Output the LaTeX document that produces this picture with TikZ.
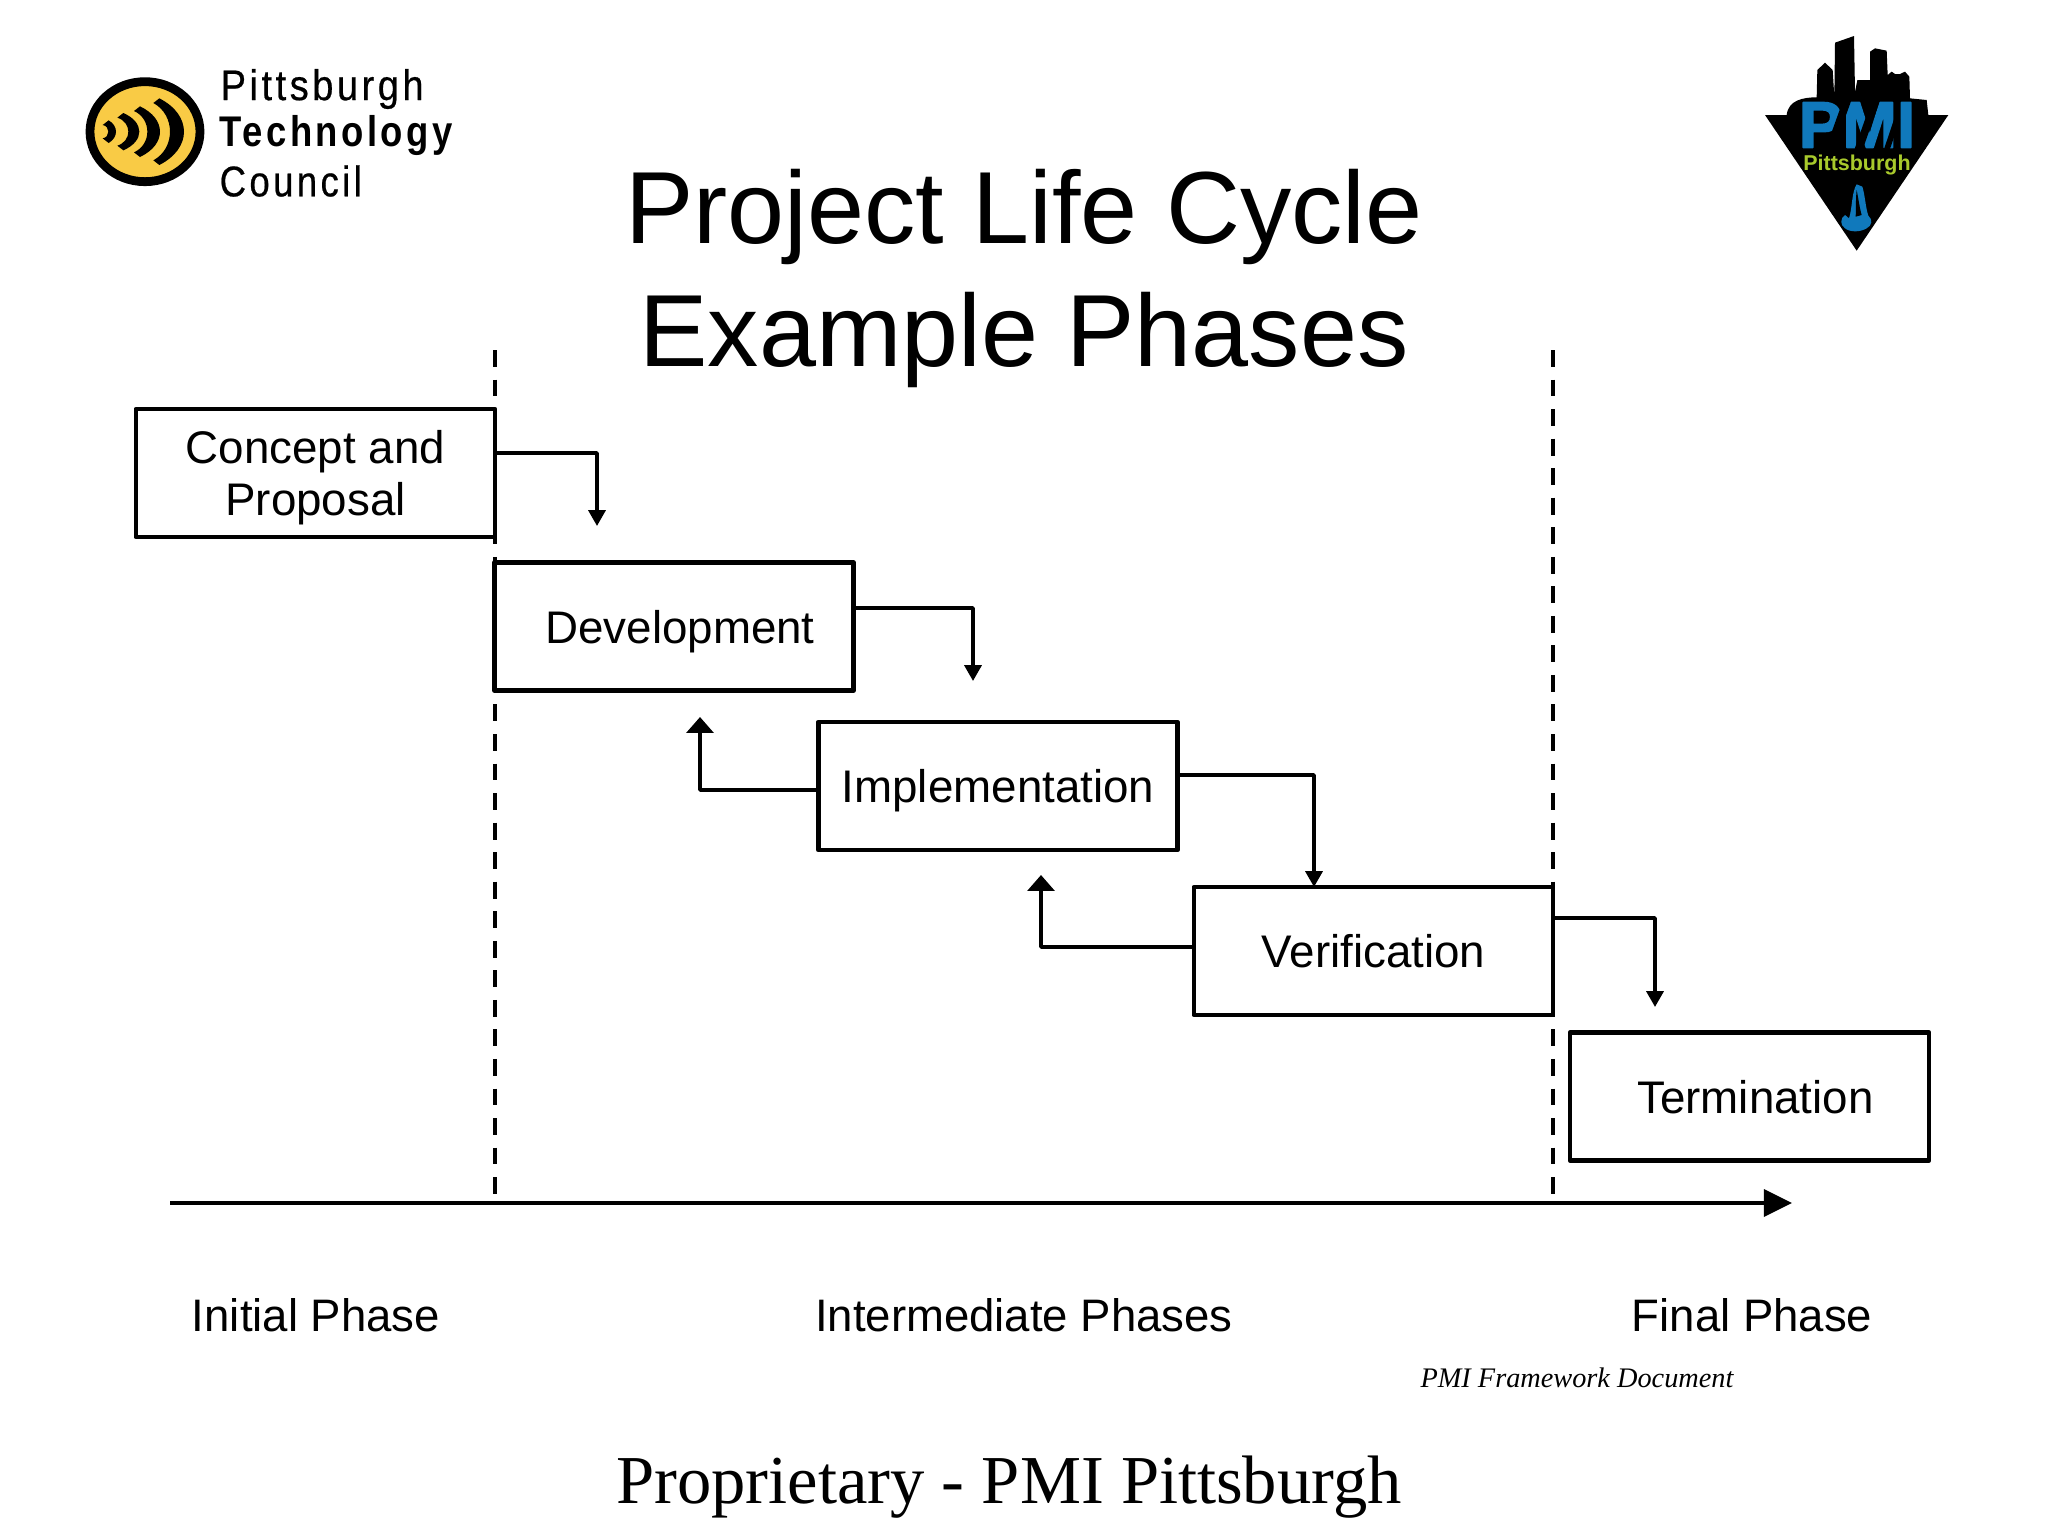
\documentclass[tikz,border=0pt]{standalone}
\usepackage{fontspec}
\setmainfont{Liberation Sans}
\newfontfamily\timesfont{Liberation Serif}
\newfontfamily\ptcfont[FakeStretch=.85,LetterSpace=8,FakeBold=.5]{Liberation Sans}
\newfontfamily\ptcboldfont[FakeStretch=.85,LetterSpace=8]{Liberation Sans}
\newfontfamily\pmifont[FakeBold=2.5]{Liberation Sans}
\usetikzlibrary{arrows.meta}
\definecolor{ptcyellow}{HTML}{F9CB45}
\definecolor{pmiblue}{HTML}{1079BC}
\definecolor{pmigreen}{HTML}{A9CA2C}
\tikzset{
  phasebox/.style={draw,fill=white,line width=1.3pt,minimum width=3.59cm,minimum height=1.28cm,inner sep=0pt,text depth=0pt,align=center,font=\fontsize{13}{14.7}\selectfont},
  link/.style={line width=1pt,-{Triangle[length=4.5pt,width=4.8pt]}},
  backlink/.style={line width=1pt,-{Triangle[length=4.5pt,width=7.6pt]}},
  bound/.style={line width=.9pt,dashed,dash pattern=on 4.8pt off 3.6pt},
  phaselabel/.style={inner sep=0pt,font=\fontsize{12.95}{15}\selectfont},
  ptctext/.style={anchor=west,inner sep=0pt,font=\fontsize{12.2}{14}\ptcfont}
}
\begin{document}
\begin{tikzpicture}[x=.01cm,y=-.01cm,line join=round]
\useasboundingbox (0,0) rectangle (2048,1536);
% left logo
\begin{scope}[shift={(60,40)},scale=1/3]
\draw[fill=ptcyellow,draw=black,line width=2.5pt] (255,275) ellipse [x radius=165,y radius=150];
\foreach \a/\h/\o/\i in {280/100/372/330,222/76/300/262,172/56/238/205,128/34/168/145}
  \fill (\a+18,275-\h) .. controls ({\o+(\o-\a-18)/3},275-.5*\h) and ({\o+(\o-\a-18)/3},275+.5*\h) .. (\a+18,275+\h)
    -- (\a,275+\h-14) .. controls ({\i+(\i-\a)/3},275+.5*\h) and ({\i+(\i-\a)/3},275-.5*\h) .. (\a,275-\h+14) -- cycle;
\end{scope}
\node[ptctext] (ptc1) at (220,89) {\scalebox{1.04}[1]{Pittsburgh}};
\node[ptctext,font=\fontsize{12.2}{14}\ptcboldfont\bfseries] (ptc2) at (219,135) {Technology};
\node[ptctext] (ptc3) at (219,181) {Council};
% right logo
\begin{scope}[shift={(1740,20)},scale=1/3]
\fill (75,285) -- (140,285) .. controls (145,240) and (190,232) .. (230,232) -- (232,150) -- (255,128) -- (278,150) -- (283,232)
  -- (285,68) -- (342,48) -- (345,215) -- (352,180) -- (390,180) -- (390,95) -- (405,85) -- (440,92) -- (443,165)
  -- (455,155) -- (465,162) -- (480,162) -- (495,155) -- (508,170) -- (510,235) -- (560,240) -- (565,285)
  -- (625,285) -- (350,692) -- cycle;
\end{scope}
\begin{scope}[shift={(1825,175)},scale=1/3]
\fill[pmiblue] (95,28) -- (112,35) .. controls (120,60) and (122,100) .. (130,122) .. controls (145,135) and (140,152) .. (125,160)
  .. controls (105,172) and (75,172) .. (60,160) .. controls (45,150) and (45,130) .. (60,120) -- (72,130)
  .. controls (82,100) and (80,50) .. (95,28) -- cycle;
\fill (95,45) .. controls (92,70) and (93,100) .. (92,125) -- (110,120) .. controls (105,105) and (100,70) .. (95,45) -- cycle;
\end{scope}
\node[inner sep=0pt,text=pmiblue,font=\fontsize{18.6}{20}\pmifont\bfseries] (pmi) at (1857,125) {PMI};
\begin{scope}[shift={(1790,95)},scale=1/3]
\draw[line width=2.2pt] (118,165)--(172,15) (205,165)--(258,15);
\draw[line width=1.6pt] (290,165)--(322,70);
\end{scope}
\node[inner sep=0pt,text=pmigreen,font=\fontsize{6.1}{8}\bfseries] (pmicity) at (1857,165) {Pittsburgh};
\node[inner sep=0pt,font=\fontsize{2.4}{3}\bfseries] (pmitm) at (1920,147) {TM};
% title
\node[align=center,inner sep=0pt,font=\fontsize{29.15}{34.7}\selectfont] (title) at (1024,278.5) {Project Life Cycle\\Example Phases};
% boundaries and time axis
\coordinate (bl) at (495,350);
\coordinate (br) at (1553,350);
\coordinate (axl) at (170,1203);
\coordinate (axr) at (1792,1203);
\draw[bound] (bl)--(bl|-axl);
\draw[bound] (br)--(br|-axl);
\draw[line width=1pt,-{Triangle[length=8pt,width=7.7pt]}] (axl)--(axr);
% phases
\node[phasebox] (concept) at (315.5,473) {Concept and\\Proposal};
\node[phasebox] (devel) at (674,626.5) {\hspace*{.12cm}Development};
\node[phasebox] (impl) at (998,786) {Implementation};
\node[phasebox] (verif) at (1373.5,951) {Verification};
\node[phasebox] (term) at (1749.5,1096.5) {\hspace*{.12cm}Termination};
\coordinate (t1) at (597,526);
\coordinate (t2) at (973,681);
\coordinate (t3) at (700,717);
\coordinate (t4) at (1314,887);
\coordinate (t5) at (1041,875);
\coordinate (t6) at (1655,1007);
\draw[link] ([yshift=2mm]concept.east) -| (t1);
\draw[link] ([yshift=1.85mm]devel.east) -| (t2);
\draw[backlink] ([yshift=-.4mm]impl.west) -| (t3);
\draw[link] ([yshift=1.1mm]impl.east) -| (t4);
\draw[backlink] ([yshift=.4mm]verif.west) -| (t5);
\draw[link] ([yshift=3.3mm]verif.east) -| (t6);
% labels
\node[phaselabel] (initial) at (316,1315) {Initial Phase};
\node[phaselabel] (inter) at (1024,1315) {Intermediate Phases};
\node[phaselabel] (final) at (1752,1315) {Final Phase};
\node[inner sep=0pt,font=\fontsize{8.05}{10}\timesfont\itshape] (source) at (1577,1378) {PMI Framework Document};
\node[inner sep=0pt,font=\fontsize{19.5}{23}\timesfont] (footer) at (1009,1487) {Proprietary - PMI Pittsburgh};
\end{tikzpicture}
\end{document}
